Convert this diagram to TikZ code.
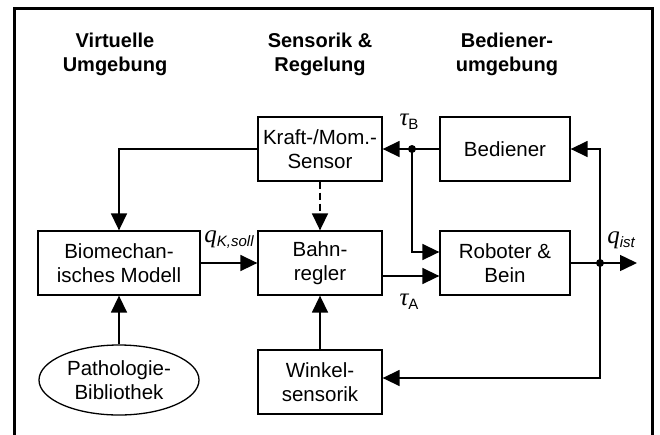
\documentclass[tikz,border=0pt]{standalone}
\usepackage{fontspec}
\setmainfont{Liberation Sans}
\newfontfamily\symfont{Liberation Serif}
\usetikzlibrary{arrows.meta,positioning,shapes.geometric,calc}
\newcommand{\sigvar}[2]{{\symfont\itshape #1}\raisebox{-4pt}{\fontsize{15}{15}\selectfont #2}}
\tikzset{
  blk/.style={draw,line width=1.3pt,minimum height=64pt,align=center,
    font=\fontsize{20.5}{24}\selectfont},
  flow/.style={line width=1.5pt,-{Triangle[length=17pt,width=16pt]}},
  jdot/.style={circle,fill,inner sep=0pt,minimum size=8pt},
  head/.style={align=center,font=\fontsize{20}{24}\selectfont\bfseries},
  sig/.style={font=\fontsize{25}{25}\selectfont,inner sep=0pt}
}

\begin{document}
\begin{tikzpicture}[x=1pt,y=-1pt]
    \useasboundingbox (0,0) rectangle (660,434);
    \draw[line width=3pt] (14,440) -- (14,8) -- (652,8) -- (652,440);
    % column headings
    \foreach \x/\t in {115/Virtuelle\\Umgebung,320/Sensorik \&\\Regelung,507/Bediener-\\umgebung}
      \node[head] at (\x,54) {\t};
    % blocks
    \foreach \n/\x/\y/\w/\t in {
      sensor/320/149/124/{Kraft-/Mom.-\\Sensor},
      bediener/505/149/130/Bediener,
      modell/119/263/162/Biomechan-\\isches Modell,
      regler/320/263/124/Bahn-\\regler,
      roboter/505/263/130/Roboter \&\\Bein,
      winkel/320/382/124/Winkel-\\sensorik}
    {
      \node[blk,minimum width=\w pt] (\n) at (\x,\y) {\t};
    }
    \node[blk,ellipse,minimum width=160pt,minimum height=70pt] (pathbib) at (119,380) {Pathologie-\\Bibliothek};
    % signal flow
    \coordinate (tauB) at (412,149);
    \coordinate (qj) at (600,263);
    \coordinate (qout) at (637,263);
    \draw[flow] (sensor.west) -| (modell.north);
    \draw[flow,dashed,dash pattern=on 7pt off 4pt] (sensor) -- (regler);
    \draw[flow] (bediener.west) -- (sensor.east);
    \draw[flow] (tauB) |- ([yshift=11pt]roboter.west);
    \draw[flow] (modell.east) -- (regler.west);
    \draw[flow] ([yshift=-13pt]regler.east) -- ([yshift=-13pt]roboter.west);
    \draw[flow] (roboter.east) -- (qout);
    \draw[flow] (qj) |- (bediener.east);
    \draw[flow] (qj) |- ([yshift=4pt]winkel.east);
    \draw[flow] (winkel) -- (regler);
    \draw[flow] (pathbib) -- (modell);
    \node[jdot] at (tauB) {};
    \node[jdot] at (qj) {};
    % labels
    \node[sig] (lb) at (409,122) {\sigvar{τ}{B}};
    \node[sig] (la) at (409,302) {\sigvar{τ}{A}};
    \node[sig] (lk) at (229,240) {\sigvar{q}{\itshape K,soll}};
    \node[sig] (lq) at (621,240) {\sigvar{q}{\itshape ist}};
\end{tikzpicture}
\end{document}
